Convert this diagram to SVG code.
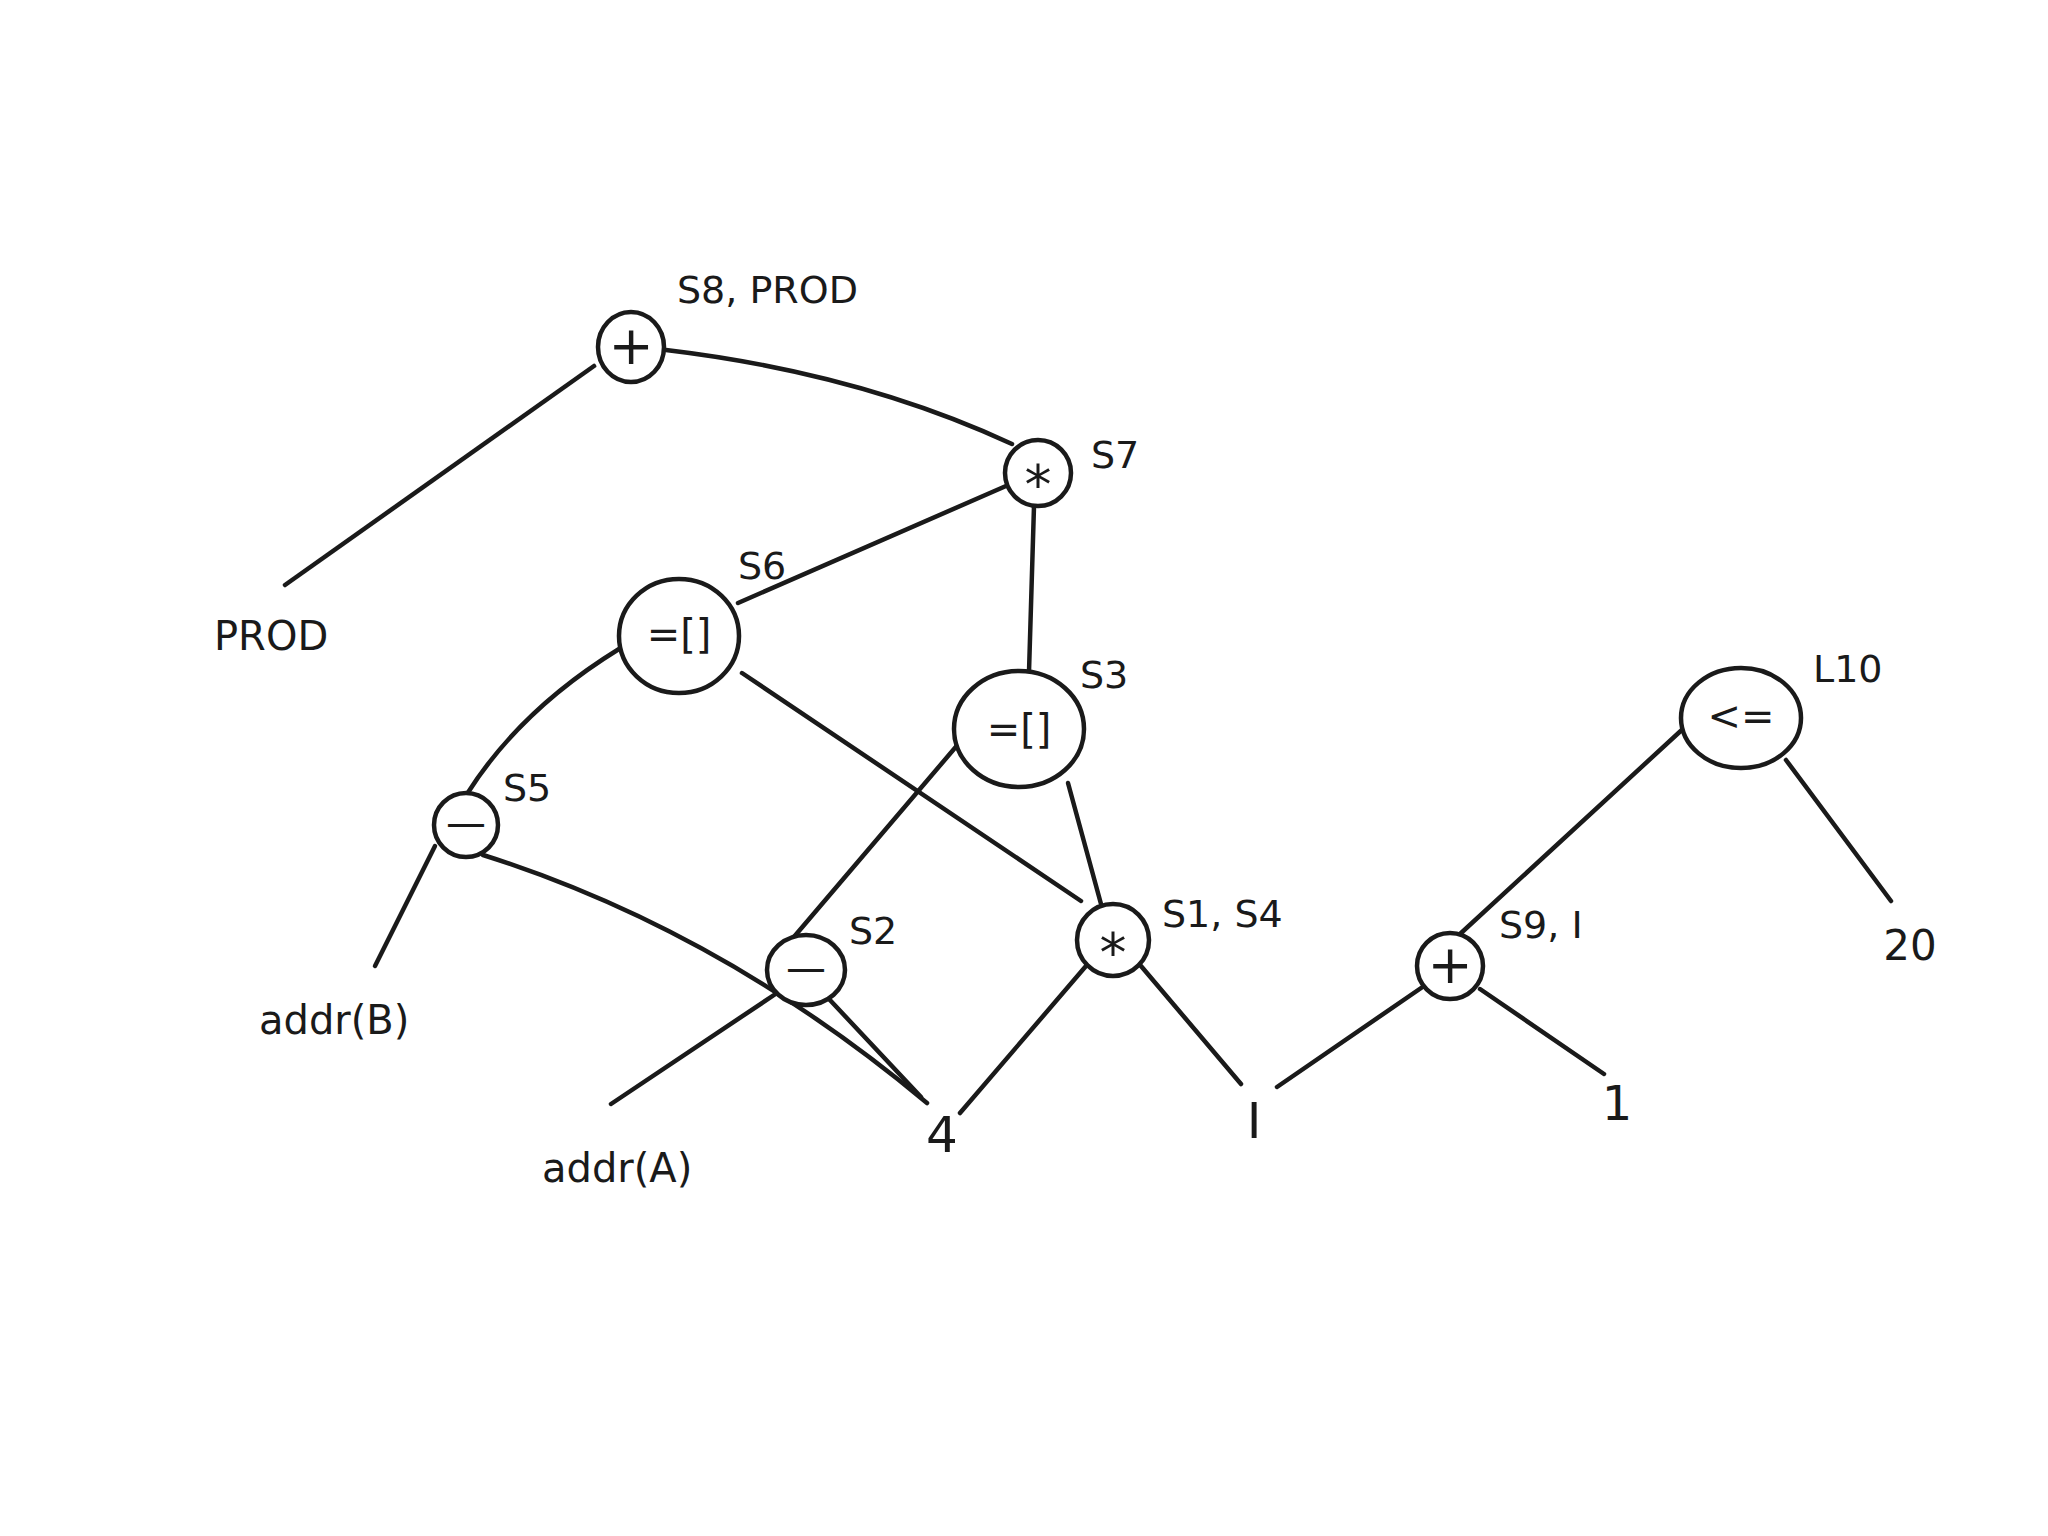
<svg xmlns="http://www.w3.org/2000/svg" width="2048" height="1536" viewBox="0 0 2048 1536">
<style>
.e{fill:none;stroke:#1a1a1a;stroke-width:4.5;stroke-linecap:round}
.n{fill:#fff;stroke:#1a1a1a;stroke-width:4.5}
.t{font-family:"DejaVu Sans","Liberation Sans",sans-serif;fill:#1a1a1a}
.op{font-size:40px;text-anchor:middle;dominant-baseline:central}
.big{font-size:54px}
.lb{font-size:38px}
.lf{font-size:40px}
</style>
<rect width="2048" height="1536" fill="#fff"/>
<g id="connectors">
<path class="e" d="M594 366 L285 585"/>
<path class="e" d="M666 350 Q859 373 1012 444"/>
<path class="e" d="M1006 486 L738 603"/>
<path class="e" d="M1034 506 L1029 672"/>
<path class="e" d="M619 649 Q520 710 467 794"/>
<path class="e" d="M742 673 L1081 901"/>
<path class="e" d="M960 742 L793 938"/>
<path class="e" d="M1068 783 L1101 904"/>
<path class="e" d="M435 846 L375 966"/>
<path class="e" d="M483 855 Q720 930 927 1103"/>
<path class="e" d="M777 993 L611 1104"/>
<path class="e" d="M829 999 L921 1097"/>
<path class="e" d="M1086 966 L960 1113"/>
<path class="e" d="M1141 966 L1241 1084"/>
<path class="e" d="M1277 1087 L1424 986"/>
<path class="e" d="M1480 989 L1604 1074"/>
<path class="e" d="M1460 934 L1685 727"/>
<path class="e" d="M1786 760 L1891 901"/>
</g>
<g id="s8">
<ellipse class="n" cx="631" cy="347" rx="33" ry="35"/>
<text class="t op big" x="631" y="345">+</text>
<text class="t lb" x="677" y="303">S8, PROD</text>
</g>
<g id="prod">
<text class="t lf" x="214" y="650">PROD</text>
</g>
<g id="s7">
<circle class="n" cx="1038" cy="473" r="33"/>
<text class="t op big" x="1038" y="484">*</text>
<text class="t lb" x="1091" y="468">S7</text>
</g>
<g id="s6">
<ellipse class="n" cx="679" cy="636" rx="60" ry="57"/>
<text class="t op" x="679" y="634">=[]</text>
<text class="t lb" x="738" y="579">S6</text>
</g>
<g id="s3">
<ellipse class="n" cx="1019" cy="729" rx="65" ry="58"/>
<text class="t op" x="1019" y="729">=[]</text>
<text class="t lb" x="1080" y="688">S3</text>
</g>
<g id="s5">
<circle class="n" cx="466" cy="825" r="32"/>
<text class="t op" x="466" y="823" font-size="30">—</text>
<text class="t lb" x="503" y="801">S5</text>
</g>
<g id="addrB">
<text class="t lf" x="259" y="1034">addr(B)</text>
</g>
<g id="s2">
<ellipse class="n" cx="806" cy="970" rx="39" ry="35"/>
<text class="t op" x="806" y="968">—</text>
<text class="t lb" x="849" y="944">S2</text>
</g>
<g id="addrA">
<text class="t lf" x="542" y="1182">addr(A)</text>
</g>
<g id="s1s4">
<circle class="n" cx="1113" cy="940" r="36"/>
<text class="t op big" x="1113" y="952">*</text>
<text class="t lb" x="1162" y="927">S1, S4</text>
</g>
<g id="four">
<text class="t" x="942" y="1152" font-size="50" text-anchor="middle">4</text>
</g>
<g id="I">
<text class="t" x="1254" y="1138" font-size="50" text-anchor="middle">I</text>
</g>
<g id="s9">
<circle class="n" cx="1450" cy="966" r="33"/>
<text class="t op big" x="1450" y="964">+</text>
<text class="t lb" x="1499" y="938">S9, I</text>
</g>
<g id="one">
<text class="t" x="1617" y="1120" font-size="48" text-anchor="middle">1</text>
</g>
<g id="l10">
<ellipse class="n" cx="1741" cy="718" rx="60" ry="50"/>
<text class="t op" x="1741" y="716">&lt;=</text>
<text class="t lb" x="1813" y="682">L10</text>
</g>
<g id="twenty">
<text class="t" x="1910" y="960" font-size="42" text-anchor="middle">20</text>
</g>
</svg>
